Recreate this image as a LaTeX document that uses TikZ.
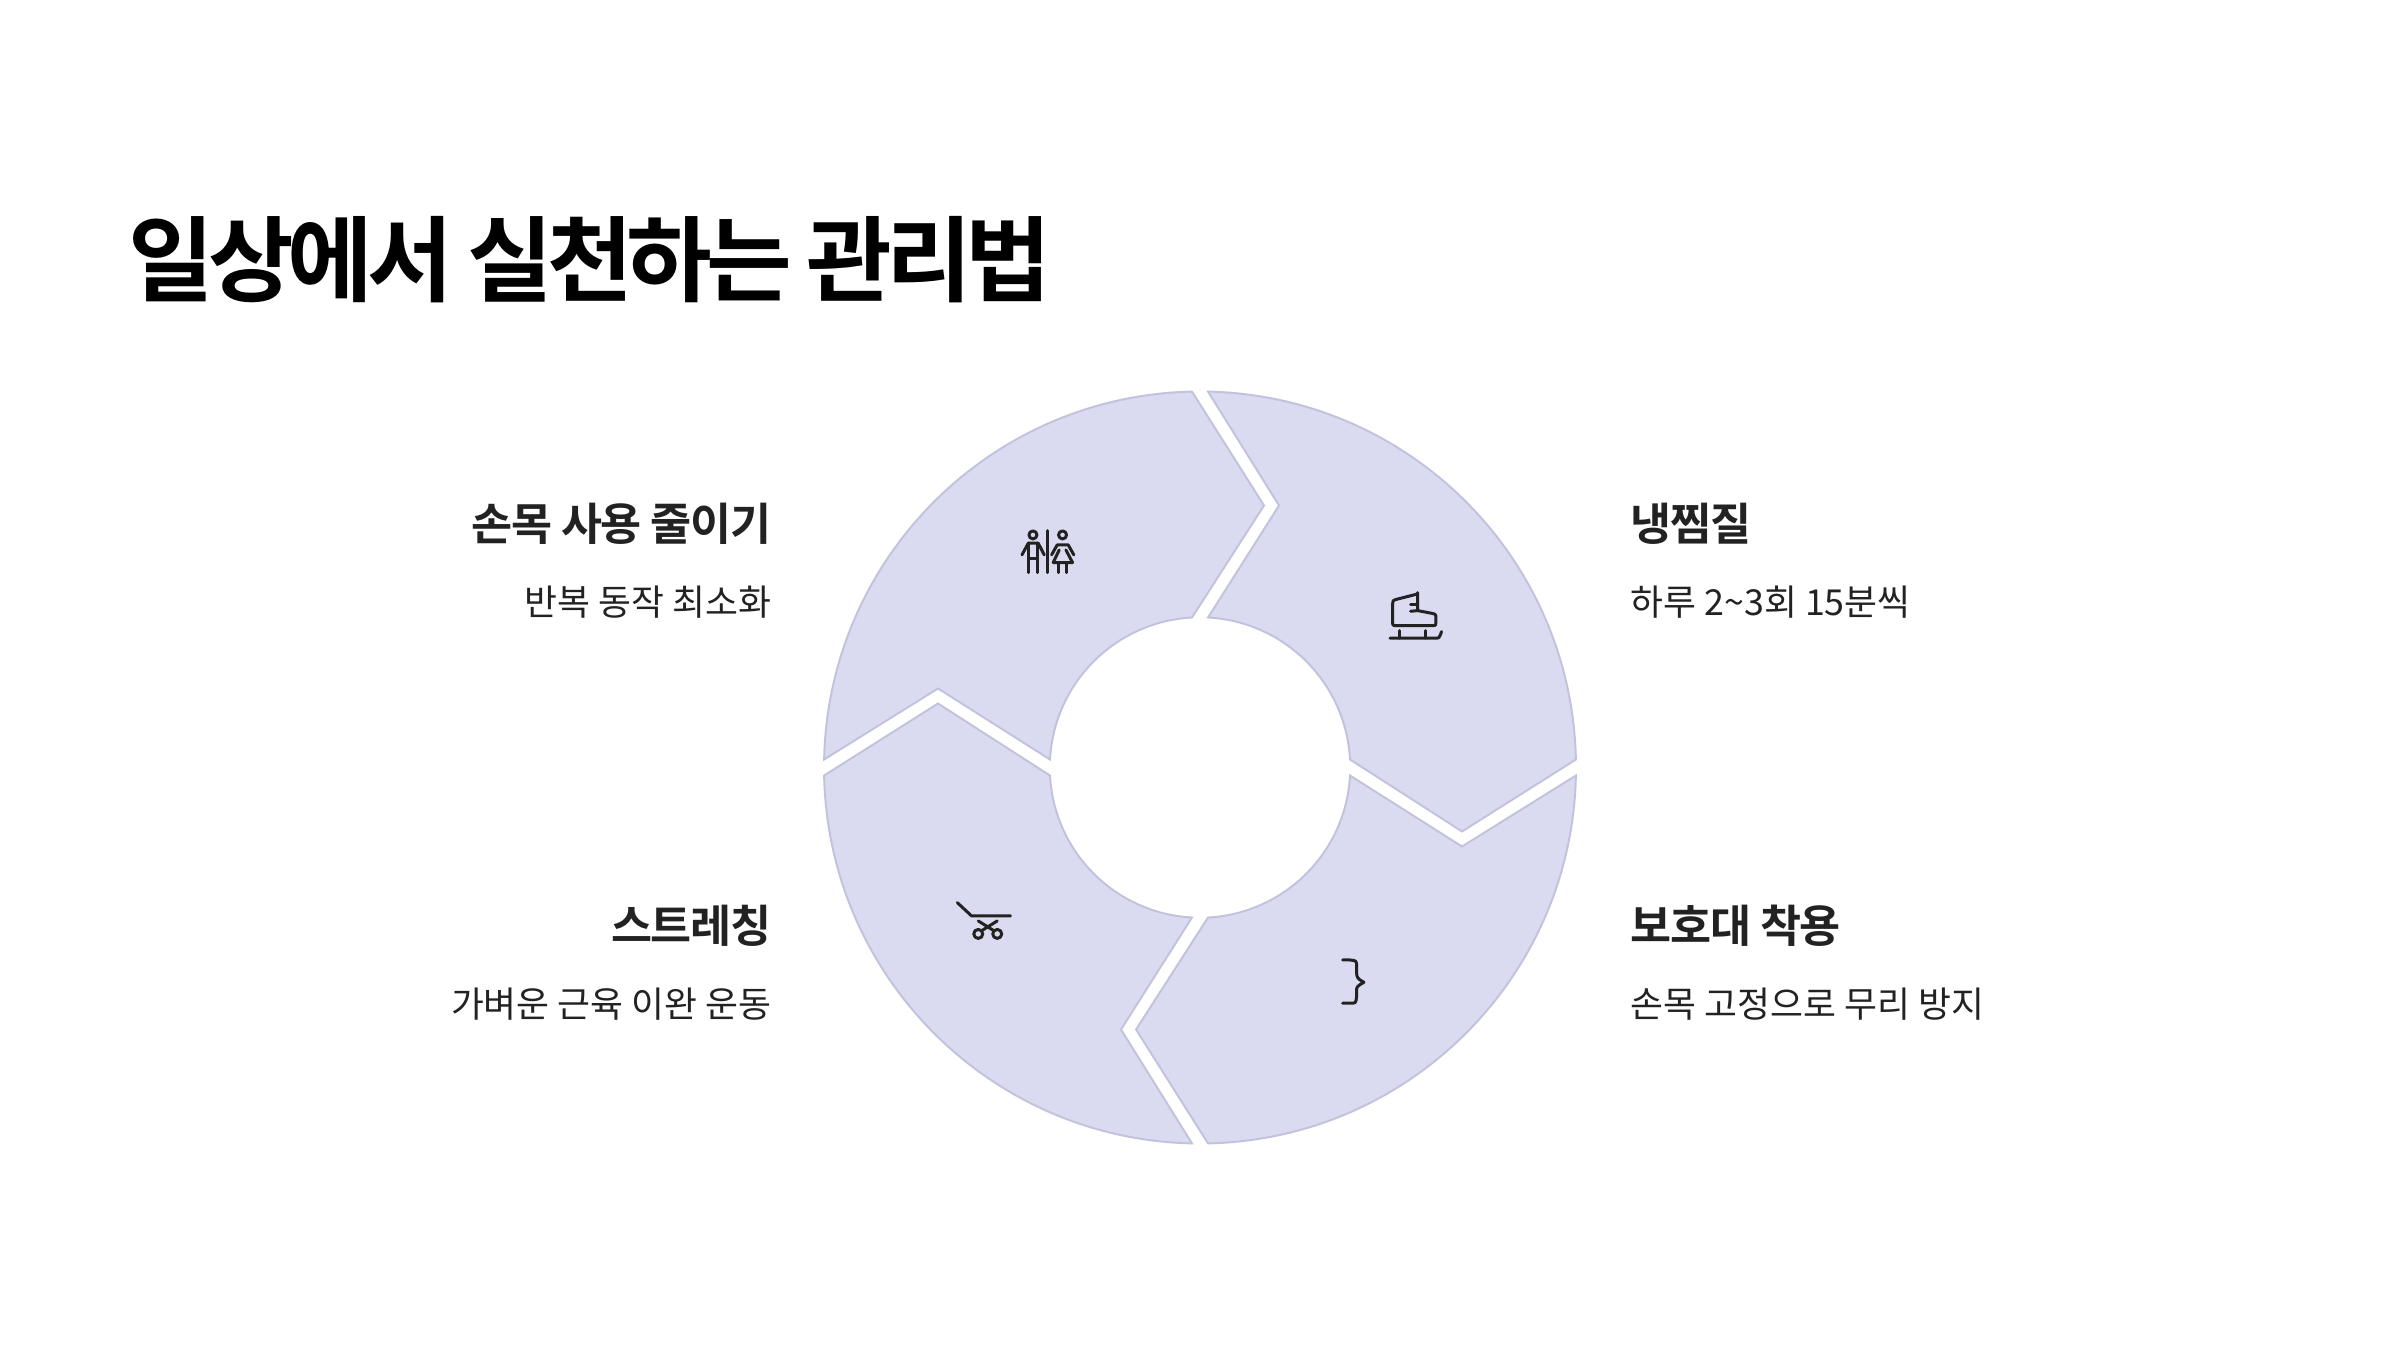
\documentclass[tikz,border=0pt]{standalone}
\usepackage{fontspec}
\newfontfamily\krreg{Noto Sans CJK KR}
\newfontfamily\krbold[LetterSpace=-3]{Noto Sans CJK KR Bold}
\newfontfamily\krtitle[LetterSpace=-6.7]{Noto Sans CJK KR Bold}
\definecolor{segfill}{HTML}{DADAF0}
\definecolor{segline}{HTML}{C2C2DC}
\definecolor{inkdark}{HTML}{222222}
\tikzset{
  segment/.style={fill=segfill,draw=segline,line width=0.55pt,line join=miter},
  headtext/.style={inner sep=0pt,text=inkdark,font=\krbold\fontsize{12.7pt}{14pt}\selectfont},
  subtext/.style={inner sep=0pt,text=inkdark,font=\krreg\fontsize{10.18pt}{12pt}\selectfont},
  titletext/.style={inner sep=0pt,text=black,font=\krtitle\fontsize{26.5pt}{32pt}\selectfont},
  iconline/.style={draw=inkdark,line width=0.03cm,line cap=round,line join=round,x=0.003333cm,y=-0.003333cm}
}
\begin{document}
\begin{tikzpicture}
\useasboundingbox (0,0) rectangle (24,13.5);
\fill[white] (0,0) rectangle (24,13.5);
\node[titletext,anchor=base west] (title) at (1.28,10.56) {일상에서 실천하는 관리법};
\foreach \r in {0,-90,-180,-270}{
  \begin{scope}[shift={(12,5.825)},rotate=\r]
    \path[segment] (0.08,3.759) arc[start angle=88.78,end angle=1.22,radius=3.76]
      -- (2.62,-0.64) -- (1.5,0.08) arc[start angle=3.05,end angle=86.95,radius=1.502]
      -- (0.79,2.62) -- cycle;
  \end{scope}
}
% labels
\node[headtext,anchor=base east] (h1) at (7.72,8.095) {손목 사용 줄이기};
\node[subtext,anchor=base east] (s1) at (7.72,7.345) {반복 동작 최소화};
\node[headtext,anchor=base west] (h2) at (16.30,8.095) {냉찜질};
\node[subtext,anchor=base west] (s2) at (16.30,7.345) {하루 2\textasciitilde3회 15분씩};
\node[headtext,anchor=base east] (h3) at (7.72,4.075) {스트레칭};
\node[subtext,anchor=base east] (s3) at (7.72,3.325) {가벼운 근육 이완 운동};
\node[headtext,anchor=base west] (h4) at (16.30,4.075) {보호대 착용};
\node[subtext,anchor=base west] (s4) at (16.30,3.325) {손목 고정으로 무리 방지};
% people icon
\begin{scope}[shift={(10cm,8.5cm)},iconline]
  \draw (99,105) circle[radius=0.04cm];
  \draw (66,165) -- (85,130) -- (115,130) -- (133,165);
  \draw (85,130) -- (85,218) (113,130) -- (113,218) (85,175) -- (113,175);
  \draw (143,92) -- (143,218);
  \draw (188,105) circle[radius=0.04cm];
  \draw (155,165) -- (172,135) -- (205,135) -- (222,165);
  \draw (178,150) -- (160,188) -- (218,188) -- (198,150);
  \draw (175,188) -- (175,218) (199,188) -- (199,218);
\end{scope}
% skate icon
\begin{scope}[shift={(13.7cm,7.7cm)},iconline]
  \draw (143,38) -- (143,92) (143,42) -- (80,58) .. controls (68,62) .. (68,72) -- (68,125)
    .. controls (68,137) .. (80,137) -- (190,137) .. controls (198,137) .. (198,128) -- (198,115)
    .. controls (198,103) .. (185,100) -- (143,92) -- (122,94);
  \draw (122,75) -- (143,75);
  \draw (60,175) -- (195,175) .. controls (208,175) .. (215,155);
  \draw (88,152) -- (88,175) (168,152) -- (168,175);
\end{scope}
% brace icon
\begin{scope}[shift={(13.1cm,4cm)},iconline]
  \draw (98,30) -- (120,30) .. controls (140,32) .. (140,50) -- (140,70)
    .. controls (142,85) .. (162,97) .. controls (140,110) .. (140,125) -- (140,140)
    .. controls (138,160) .. (120,160) -- (98,160);
\end{scope}
% cart icon
\begin{scope}[shift={(9.4cm,4.6cm)},iconline]
  \draw (52,38) -- (95,78) -- (212,78);
  \draw (115,132) circle[radius=0.045cm];
  \draw (172,132) circle[radius=0.045cm];
  \draw (115,93) -- (163,123) (172,93) -- (124,123);
\end{scope}
\end{tikzpicture}
\end{document}
